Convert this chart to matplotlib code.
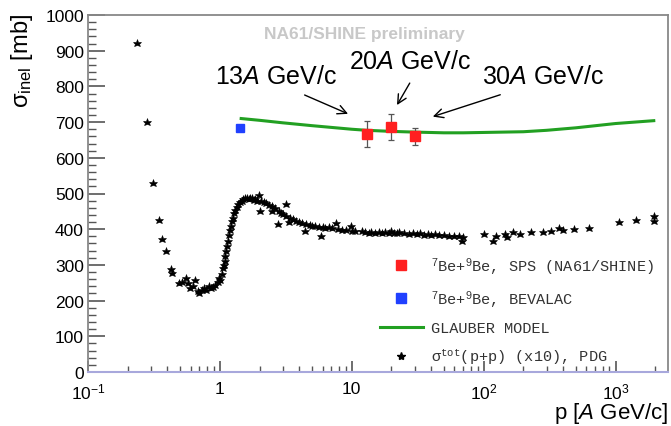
import matplotlib
matplotlib.use("Agg")
import matplotlib.pyplot as plt
from matplotlib.lines import Line2D
from matplotlib.ticker import FixedLocator, MultipleLocator, NullFormatter

plt.rcParams['font.family'] = ['Liberation Sans', 'DejaVu Sans']
plt.rcParams['mathtext.fontset'] = 'custom'
plt.rcParams['mathtext.rm'] = 'Liberation Sans'
plt.rcParams['mathtext.it'] = 'Liberation Sans:italic'
plt.rcParams['mathtext.tt'] = 'Liberation Mono'

# --- data ---
pp_p = [0.234, 0.279, 0.309, 0.347, 0.367, 0.388, 0.425, 0.432, 0.486, 0.52, 0.556, 0.575,
        0.595, 0.63, 0.653, 0.68, 0.70, 0.73, 0.76, 0.79, 0.82, 0.85, 0.88, 0.92, 0.96, 0.98,
        1.00, 1.03, 1.05, 1.07, 1.09, 1.10, 1.12, 1.13, 1.15, 1.17, 1.19, 1.21, 1.23, 1.25,
        1.28, 1.31, 1.34, 1.38, 1.42, 1.46, 1.50, 1.55, 1.60, 1.65, 1.70, 1.75, 1.80, 1.85,
        1.90, 1.99, 2.00, 2.05, 2.15, 2.25, 2.35, 2.48, 2.5, 2.6, 2.74, 2.8, 2.9, 3.0, 3.17,
        3.2, 3.35, 3.4, 3.6, 3.8, 4.0, 4.2, 4.4, 4.5, 4.8, 5.0, 5.3, 5.6, 5.8, 6.0, 6.3, 6.7,
        7.1, 7.6, 7.8, 8.5, 9.0, 9.8, 10.0, 10.5, 11.9, 12.5, 13.5, 14.1, 15, 16, 17, 18, 19,
        20, 21, 22, 23, 25, 27, 29, 31, 33, 35, 38, 40, 43, 46, 50, 55, 60, 65, 68, 70,
        100, 117, 125, 144, 150, 167, 190, 228, 281, 322, 376, 400, 483, 634, 1070, 1420,
        1950, 1960]
pp_sig = [921, 701, 529, 426, 373, 340, 288, 278, 248, 253, 262, 248,
          236, 240, 258, 226, 222, 230, 236, 230, 242, 236, 238, 244, 252, 264,
          258, 275, 290, 300, 312, 325, 340, 352, 368, 385, 398, 410, 422, 432,
          445, 455, 462, 470, 476, 480, 484, 486, 488, 484, 488, 486, 482, 485,
          480, 496, 452, 478, 476, 472, 468, 451, 464, 460, 415, 452, 446, 442, 470,
          438, 420, 432, 428, 424, 420, 417, 396, 414, 412, 410, 408, 406, 382, 405, 404, 406,
          402, 418, 400, 398, 397, 410, 396, 395, 394, 392, 390, 392, 389, 391, 388, 392, 390,
          394, 389, 388, 391, 390, 387, 389, 386, 388, 385, 387, 384, 386, 384, 383, 382, 380, 381, 368, 378,
          387, 368, 382, 387, 378, 392, 386, 391, 391, 396, 402, 398, 400, 402, 419, 427,
          437, 424]

glauber_p = [1.45, 2, 3, 5, 10, 13, 20, 30, 50, 70, 100, 200, 300, 500, 1000, 1950]
glauber_sig = [710, 705, 698, 690, 680, 677, 674, 672, 670, 670, 671, 673, 677, 684, 696, 704]

sps_p = [13, 20, 30]
sps_sig = [667, 687, 660]
sps_err = [37, 37, 24]

bev_p = [1.43]
bev_sig = [683]

ann_labels = ["13$\\mathit{A}$ GeV/c", "20$\\mathit{A}$ GeV/c", "30$\\mathit{A}$ GeV/c"]
ann_text_xy = [(2.67, 829), (27.6, 872), (281, 829)]
ann_tail_xy = [(4.2, 779), (28.2, 816), (140, 779)]
ann_tip_xy = [(9.8, 720), (21.5, 741), (39.3, 713)]

xtick_vals = [0.1, 1, 10, 100, 1000]
xtick_labels = ["$10^{-1}$", "1", "10", "$10^{2}$", "$10^{3}$"]

# --- figure ---
fig = plt.figure(figsize=(6.71, 4.27), dpi=100)
ax = fig.add_axes([88/671, (427-373)/427, 580/671, 357/427])

ax.plot(pp_p, pp_sig, linestyle='none', marker='*', color='black', markersize=6.2,
        markeredgewidth=0.4)
ax.plot(glauber_p, glauber_sig, color='#22a022', lw=2.2)
ax.errorbar(sps_p, sps_sig, yerr=sps_err, fmt='none', ecolor='#555555', elinewidth=0.9,
            capsize=2, capthick=0.9)
ax.plot(sps_p, sps_sig, linestyle='none', marker='s', color='#ff2020', markersize=6.5)
ax.plot(bev_p, bev_sig, linestyle='none', marker='s', color='#2040ff', markersize=6)

ax.set_xscale('log')
ax.set_xlim(0.1, 2500)
ax.set_ylim(0, 1000)

ax.xaxis.set_major_locator(FixedLocator(xtick_vals))
ax.set_xticklabels(xtick_labels)
ax.xaxis.set_minor_locator(matplotlib.ticker.LogLocator(base=10, subs=range(2, 10), numticks=20))
ax.xaxis.set_minor_formatter(NullFormatter())
ax.yaxis.set_major_locator(MultipleLocator(100))
ax.yaxis.set_minor_locator(MultipleLocator(20))

ax.tick_params(axis='both', which='both', direction='in', colors='#555555',
               labelcolor='black', labelsize=12.5, top=False, right=False)
ax.tick_params(axis='y', which='major', length=12, width=1.2, pad=3)
ax.tick_params(axis='y', which='minor', length=6, width=1.0)
ax.tick_params(axis='x', which='major', length=8, width=1.2, pad=6.5)
ax.tick_params(axis='x', which='minor', length=4, width=1.0)

for s in ['left', 'top', 'right']:
    ax.spines[s].set_color('#888888')
    ax.spines[s].set_linewidth(1.3)
ax.spines['bottom'].set_color('#a8a8dc')
ax.spines['bottom'].set_linewidth(1.5)

for lab, txy, tail, tip in zip(ann_labels, ann_text_xy, ann_tail_xy, ann_tip_xy):
    ax.text(txy[0], txy[1], lab, fontsize=18, ha='center', va='center')
    ax.annotate('', xy=tip, xytext=tail,
                arrowprops=dict(arrowstyle='->', lw=1.0, color='black', mutation_scale=16))

fig.text(364/671, 1-35/427, "NA61/SHINE preliminary", fontsize=12.5, fontweight='bold',
         color='#c8c8c8', ha='center', va='center')

fig.text(22/671, 1-14/427, "σ$_{\\mathrm{inel}}$ [mb]", fontsize=17, rotation=90,
         ha='center', va='top')
fig.text(668/671, 1-426.5/427, "p [$\\mathit{A}$ GeV/c]", fontsize=16, ha='right', va='bottom')

handles = [
    Line2D([], [], linestyle='none', marker='s', color='#ff2020', markersize=6.5),
    Line2D([], [], linestyle='none', marker='s', color='#2040ff', markersize=6.5),
    Line2D([], [], color='#22a022', lw=2.2),
    Line2D([], [], linestyle='none', marker='*', color='black', markersize=6),
]
labels = ["$^{7}$Be+$^{9}$Be, SPS (NA61/SHINE)", "$^{7}$Be+$^{9}$Be, BEVALAC",
          "GLAUBER MODEL", "σ$^{\\mathtt{tot}}$(p+p) (x10), PDG"]
leg = ax.legend(handles, labels, loc='upper left', bbox_to_anchor=((380-88)/580, (373-256)/357),
                frameon=False, borderpad=0, borderaxespad=0, handlelength=2.8,
                handletextpad=0.55, labelspacing=0.75,
                prop={'family': ['Liberation Mono', 'DejaVu Sans'], 'size': 11})
for t in leg.get_texts():
    t.set_color('#333333')

fig.savefig('out.png', dpi=100)
